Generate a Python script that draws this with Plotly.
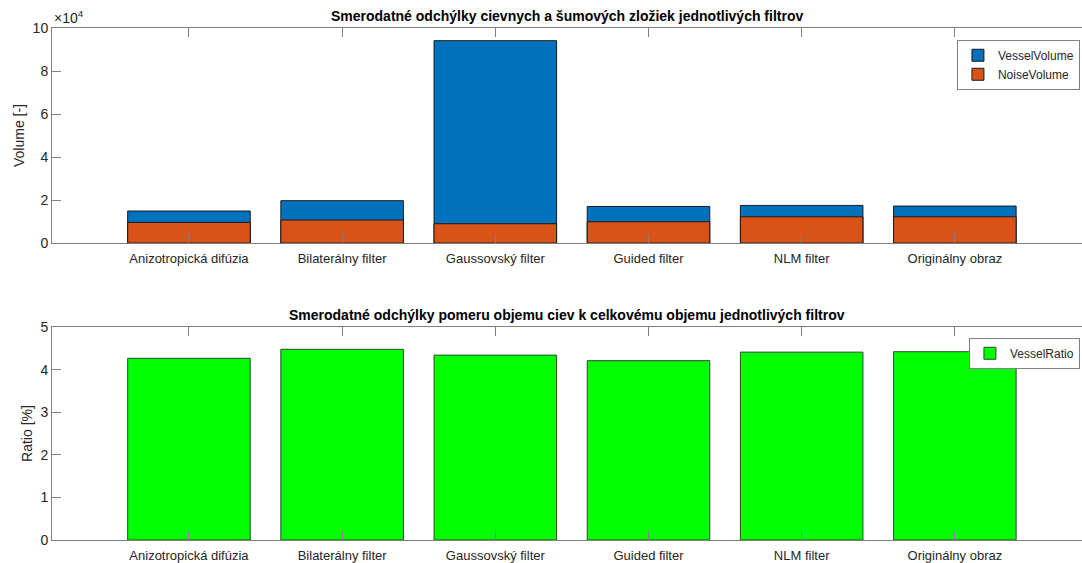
import plotly.graph_objects as go
from plotly.subplots import make_subplots

filters = ["Anizotropická difúzia", "Bilaterálny filter", "Gaussovský filter",
           "Guided filter", "NLM filter", "Originálny obraz"]
vessel_volume = [14900, 19700, 94100, 17000, 17500, 17200]
noise_volume = [9600, 10700, 9000, 9900, 12200, 12200]
vessel_ratio = [4.265, 4.476, 4.34, 4.21, 4.41, 4.42]
vol_ticks = [0, 20000, 40000, 60000, 80000, 100000]
vol_ticktext = ["0", "2", "4", "6", "8", "10"]

pos = list(range(1, len(filters) + 1))
FONT = "Liberation Sans, Arial, sans-serif"
TXT = "#262626"
LINE = "#808080"

fig = make_subplots(rows=2, cols=1, vertical_spacing=0.164)

fig.add_trace(go.Bar(x=pos, y=vessel_volume, width=0.8, name="VesselVolume",
                     marker=dict(color="#0072BD", line=dict(color="#1a1a1a", width=1)),
                     legend="legend"), row=1, col=1)
fig.add_trace(go.Bar(x=pos, y=noise_volume, width=0.8, name="NoiseVolume",
                     marker=dict(color="#D95319", line=dict(color="#1a1a1a", width=1)),
                     legend="legend"), row=1, col=1)
fig.add_trace(go.Bar(x=pos, y=vessel_ratio, width=0.8, name="VesselRatio",
                     marker=dict(color="#00FF00", line=dict(color="#2a4a2a", width=1)),
                     legend="legend2"), row=2, col=1)

xcommon = dict(range=[0.106, 6.83], tickvals=pos, ticktext=filters, ticks="inside",
               ticklen=9, tickcolor=LINE, showline=True, linecolor=LINE, mirror="ticks",
               showgrid=False, zeroline=False, tickfont=dict(size=13, color=TXT),
               ticklabelstandoff=3, automargin=False)
fig.update_xaxes(**xcommon, row=1, col=1)
fig.update_xaxes(**xcommon, row=2, col=1)

fig.update_yaxes(range=[0, 100000], tickvals=vol_ticks, ticktext=vol_ticktext,
                 ticks="inside", ticklen=9, tickcolor=LINE, showline=True, linecolor=LINE,
                 showgrid=False, zeroline=False, tickfont=dict(size=14, color=TXT),
                 title=dict(text="Volume [-]", font=dict(size=14, color=TXT), standoff=4),
                 automargin=False, row=1, col=1)
fig.update_yaxes(range=[0, 5], dtick=1, ticks="inside", ticklen=9, tickcolor=LINE,
                 showline=True, linecolor=LINE, showgrid=False, zeroline=False,
                 tickfont=dict(size=14, color=TXT),
                 title=dict(text="Ratio [%]", font=dict(size=14, color=TXT), standoff=4),
                 automargin=False, row=2, col=1)

fig.update_layout(
    width=1082, height=563,
    margin=dict(l=52, r=0, t=28, b=23, autoexpand=False),
    barmode="overlay",
    plot_bgcolor="white", paper_bgcolor="white",
    font=dict(family=FONT, color=TXT),
    xaxis=dict(domain=[0, 1]), yaxis=dict(domain=[0.58, 1]),
    xaxis2=dict(domain=[0, 1]), yaxis2=dict(domain=[0, 0.416]),
    legend=dict(x=0.998, y=0.977, xanchor="right", yanchor="top",
                bordercolor=LINE, borderwidth=1, bgcolor="white",
                font=dict(size=12, color=TXT), tracegroupgap=0,
                itemwidth=30),
    legend2=dict(x=0.998, y=0.395, xanchor="right", yanchor="top",
                 bordercolor=LINE, borderwidth=1, bgcolor="white",
                 font=dict(size=12, color=TXT), itemwidth=30),
    showlegend=True,
    annotations=[
        dict(text="<b>Smerodatné odchýlky cievnych a šumových zložiek jednotlivých filtrov</b>",
             x=0.5, y=1, xref="paper", yref="paper", xanchor="center", yanchor="bottom",
             yshift=2, showarrow=False, font=dict(size=14, color="black")),
        dict(text="<b>Smerodatné odchýlky pomeru objemu ciev k celkovému objemu jednotlivých filtrov</b>",
             x=0.5, y=0.416, xref="paper", yref="paper", xanchor="center", yanchor="bottom",
             yshift=2, showarrow=False, font=dict(size=14, color="black")),
        dict(text="×10<sup>4</sup>", x=0, y=1, xref="paper", yref="paper",
             xanchor="left", yanchor="bottom", showarrow=False,
             font=dict(size=14, color=TXT)),
    ],
)

# the page's default 8px body margin would shift and clip the figure
fig.write_html("out.html", config={"displayModeBar": False},
               post_script="document.body.style.margin='0';document.body.style.overflow='hidden';")
